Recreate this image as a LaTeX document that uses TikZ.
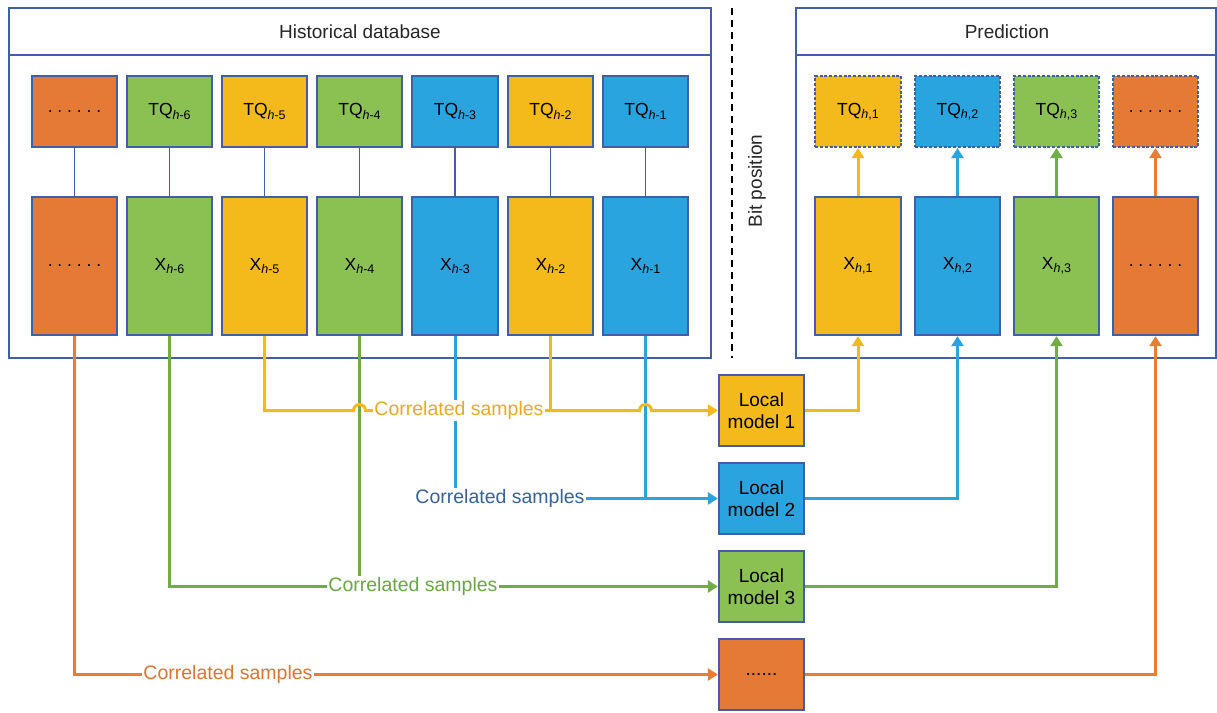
\documentclass[tikz,border=0pt]{standalone}
\usepackage{fontspec}
\setmainfont{Liberation Sans}
\usetikzlibrary{arrows.meta}
\definecolor{bord}{HTML}{3F5FA6}
\definecolor{oF}{HTML}{E47A35}
\definecolor{gF}{HTML}{8BC152}
\definecolor{yF}{HTML}{F4B91A}
\definecolor{bF}{HTML}{29A4DE}
\definecolor{yL}{HTML}{F4B91A}
\definecolor{bL}{HTML}{29A4DE}
\definecolor{gL}{HTML}{70AD47}
\definecolor{oL}{HTML}{E87D33}
\definecolor{yT}{HTML}{EAA925}
\definecolor{bT}{HTML}{35639A}
\definecolor{gT}{HTML}{68A843}
\definecolor{oT}{HTML}{E07430}
\newcommand{\hsub}[1]{\raisebox{-0.35ex}{\fontsize{12.5}{13}\selectfont #1}}
\newcommand{\sdots}{.\ .\ .\ .\ .\ .}
\begin{document}
\begin{tikzpicture}[x=1pt,y=-1pt,
  box/.style={draw=bord, line width=1.8pt, minimum width=85.5pt, minimum height=71.5pt, inner sep=0pt, font=\fontsize{17.5}{20}\selectfont, text=black},
  tall/.style={box, minimum height=138.5pt},
  pbox/.style={box, line width=1.6pt, dash pattern=on 3pt off 1.8pt},
  lm/.style={box, font=\fontsize{19}{22}\selectfont, align=center},
  conn/.style={line width=3pt},
  arr/.style={-{Triangle[width=12pt,length=10pt]}},
  lab/.style={fill=white, inner sep=1pt, font=\fontsize{19.5}{22}\selectfont},
  panel/.style={draw=bord, line width=2pt},
  title/.style={font=\fontsize{19}{22}\selectfont, text=black!85},
  thinc/.style={draw=bord, line width=1.3pt}]
\useasboundingbox (0,0) rectangle (1217,712);
% panels
\draw[panel] (9,8) rectangle (711,358);
\draw[panel] (9,55) -- (711,55);
\draw[panel] (796,8) rectangle (1216,358);
\draw[panel] (796,55) -- (1216,55);
\node[title] (ht) at (360,32) {Historical database};
\node[title] (pt) at (1007,32) {Prediction};
\draw[line width=2.8pt, dash pattern=on 7pt off 5pt] (732,8) -- (732,358);
\node[title, rotate=90] (bp) at (757,181) {Bit position};
% history TQ row
\node[box,fill=oF] (t7) at (74.5,111.5) {\sdots};
\node[box,fill=gF] (t6) at (169.5,111.5) {TQ\hsub{\textit{h}-6}};
\node[box,fill=yF] (t5) at (264.5,111.5) {TQ\hsub{\textit{h}-5}};
\node[box,fill=gF] (t4) at (359.5,111.5) {TQ\hsub{\textit{h}-4}};
\node[box,fill=bF] (t3) at (455,111.5) {TQ\hsub{\textit{h}-3}};
\node[box,fill=yF] (t2) at (550.5,111.5) {TQ\hsub{\textit{h}-2}};
\node[box,fill=bF] (t1) at (645.5,111.5) {TQ\hsub{\textit{h}-1}};
% history X row
\node[tall,fill=oF] (x7) at (74.5,266) {\sdots};
\node[tall,fill=gF] (x6) at (169.5,266) {X\hsub{\textit{h}-6}};
\node[tall,fill=yF] (x5) at (264.5,266) {X\hsub{\textit{h}-5}};
\node[tall,fill=gF] (x4) at (359.5,266) {X\hsub{\textit{h}-4}};
\node[tall,fill=bF] (x3) at (455,266) {X\hsub{\textit{h}-3}};
\node[tall,fill=yF] (x2) at (550.5,266) {X\hsub{\textit{h}-2}};
\node[tall,fill=bF] (x1) at (645.5,266) {X\hsub{\textit{h}-1}};
\foreach \i in {1,...,7} {\draw[thinc] (t\i.south) -- (x\i.north);}
% prediction
\node[pbox,fill=yF] (p1) at (858,111.5) {TQ\hsub{\textit{h},1}};
\node[pbox,fill=bF] (p2) at (957.5,111.5) {TQ\hsub{\textit{h},2}};
\node[pbox,fill=gF] (p3) at (1056.5,111.5) {TQ\hsub{\textit{h},3}};
\node[pbox,fill=oF] (p4) at (1155.5,111.5) {\sdots};
\node[tall,fill=yF] (y1) at (858,266) {X\hsub{\textit{h},1}};
\node[tall,fill=bF] (y2) at (957.5,266) {X\hsub{\textit{h},2}};
\node[tall,fill=gF] (y3) at (1056.5,266) {X\hsub{\textit{h},3}};
\node[tall,fill=oF] (y4) at (1155.5,266) {\sdots};
% local models
\node[lm,fill=yF] (m1) at (761.5,410.5) {Local\\model 1};
\node[lm,fill=bF] (m2) at (761.5,498.5) {Local\\model 2};
\node[lm,fill=gF] (m3) at (761.5,586.5) {Local\\model 3};
\node[lm,fill=oF] (m4) at (761.5,674.5) {......};
% left connectors
\draw[conn,gL,arr] (x6.south) |- (m3.west);
\draw[conn,gL] (x4.south) -- (x4.south |- m3.west);
\draw[conn,bL,arr] (x3.south) |- (m2.west);
\draw[conn,bL] (x1.south) -- (x1.south |- m2.west);
\draw[conn,oL,arr] (x7.south) |- (m4.west);
\coordinate (c1) at (x4.south |- m1.west);
\coordinate (c2) at (x1.south |- m1.west);
\draw[conn,yL,arr] (x5.south) -- (x5.south |- m1.west) -- ([xshift=-6pt]c1)
  arc[start angle=180,end angle=0,radius=6pt] -- ([xshift=-6pt]c2)
  arc[start angle=180,end angle=0,radius=6pt] -- (m1.west);
\draw[conn,yL] (x2.south) -- (x2.south |- m1.west);
% labels
\node[lab,text=yT] (l1) at (459,410.5) {Correlated samples};
\node[lab,text=bT] (l2) at (500,498.5) {Correlated samples};
\node[lab,text=gT] (l3) at (413,586.5) {Correlated samples};
\node[lab,text=oT] (l4) at (228,674.5) {Correlated samples};
% right connectors
\draw[conn,yL,arr] (m1.east) -| (y1.south);
\draw[conn,bL,arr] (m2.east) -| (y2.south);
\draw[conn,gL,arr] (m3.east) -| (y3.south);
\draw[conn,oL,arr] (m4.east) -| (y4.south);
\draw[conn,yL,arr] (y1.north) -- (p1.south);
\draw[conn,bL,arr] (y2.north) -- (p2.south);
\draw[conn,gL,arr] (y3.north) -- (p3.south);
\draw[conn,oL,arr] (y4.north) -- (p4.south);
\end{tikzpicture}
\end{document}
